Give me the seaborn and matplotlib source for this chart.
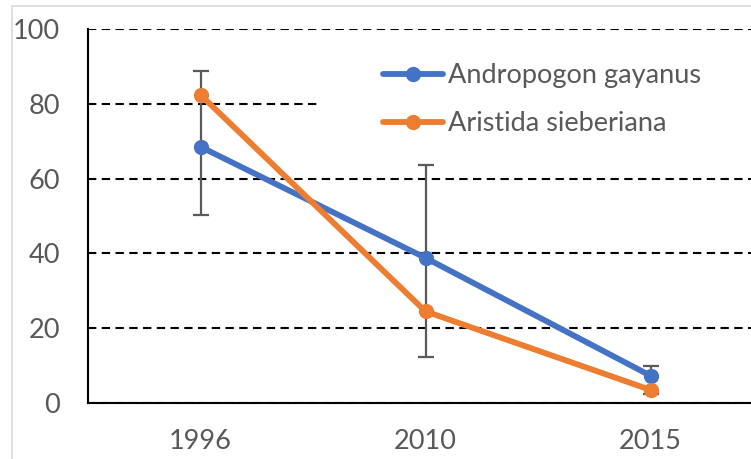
import numpy as np
import pandas as pd
import matplotlib
matplotlib.use('Agg')
import matplotlib.pyplot as plt
import seaborn as sns
from matplotlib.patches import Rectangle

# Data
years = ['1996', '2010', '2015']
andropogon = [68.5, 38.8, 7.3]
aristida = [82.4, 24.5, 3.5]
err_low = [18.2, 26.5, 5.0]
err_high = [20.3, 24.8, 2.6]
species = ['Andropogon gayanus', 'Aristida sieberiana']

BLUE = '#4472C4'
ORANGE = '#ED7D31'
GREY = '#595959'
FS = 19.5

sns.set_theme(style='white')
plt.rcParams.update({
    'font.family': ['Lato', 'DejaVu Sans'],
    'font.size': FS,
    'text.color': GREY,
    'xtick.color': 'black',
    'xtick.labelcolor': GREY,
    'ytick.labelcolor': GREY,
})

df = pd.DataFrame({
    'year': years * 2,
    'value': andropogon + aristida,
    'species': [species[0]] * len(years) + [species[1]] * len(years),
})

fig = plt.figure(figsize=(7.51, 4.59), dpi=100)
ax = fig.add_axes([88 / 751, 1 - 403 / 459, 675 / 751, 374 / 459])

# light chart-area border
fig.patches.append(Rectangle((12 / 751, -0.1), 1.2, 1 - 6 / 459 + 0.1,
                             transform=fig.transFigure, facecolor='none',
                             edgecolor='#D9D9D9', linewidth=1.2, zorder=0))

ax.errorbar(years, andropogon, yerr=[err_low, err_high], fmt='none', ecolor=GREY,
            elinewidth=1.6, capsize=6, capthick=1.6, zorder=2)

sns.lineplot(data=df, x='year', y='value', hue='species', palette=[BLUE, ORANGE],
             marker='o', markersize=11, markeredgewidth=0, linewidth=4.2,
             sort=False, ax=ax, zorder=3)

ax.set_xlim(-0.5, 2.5)
ax.set_ylim(0, 100)
ax.set_yticks([0, 20, 40, 60, 80, 100])
ax.set_xlabel('')
ax.set_ylabel('')

ax.set_axisbelow(True)
ax.yaxis.grid(True, color='black', linestyle=(0, (4.0, 2.6)), linewidth=1.5)
ax.xaxis.grid(False)

for s in ['top', 'right']:
    ax.spines[s].set_visible(False)
for s in ['left', 'bottom']:
    ax.spines[s].set_color('black')
    ax.spines[s].set_linewidth(1.5)

ax.tick_params(axis='y', length=0, pad=20, labelsize=FS)
ax.tick_params(axis='x', which='major', length=0, pad=19, labelsize=FS)
ax.set_xticks([-0.5, 0.5, 1.5], minor=True)
ax.tick_params(axis='x', which='minor', length=7, width=1.5, color='black', direction='out')

# white legend box hiding the gridline behind it
ax.add_patch(Rectangle(((318 - 88) / 675, (403 - 150) / 374), 1.0, 110 / 374,
                       transform=ax.transAxes, facecolor='white', edgecolor='none',
                       zorder=1))

handles, labels = ax.get_legend_handles_labels()
ax.legend(handles, labels, loc='upper left',
          bbox_to_anchor=((383 - 88) / 675, (403 - 63) / 374),
          frameon=False, fontsize=FS, handlelength=2.2, handletextpad=0.2,
          labelspacing=0.85, borderpad=0, borderaxespad=0, labelcolor=GREY)

fig.savefig('out.png', dpi=100)
